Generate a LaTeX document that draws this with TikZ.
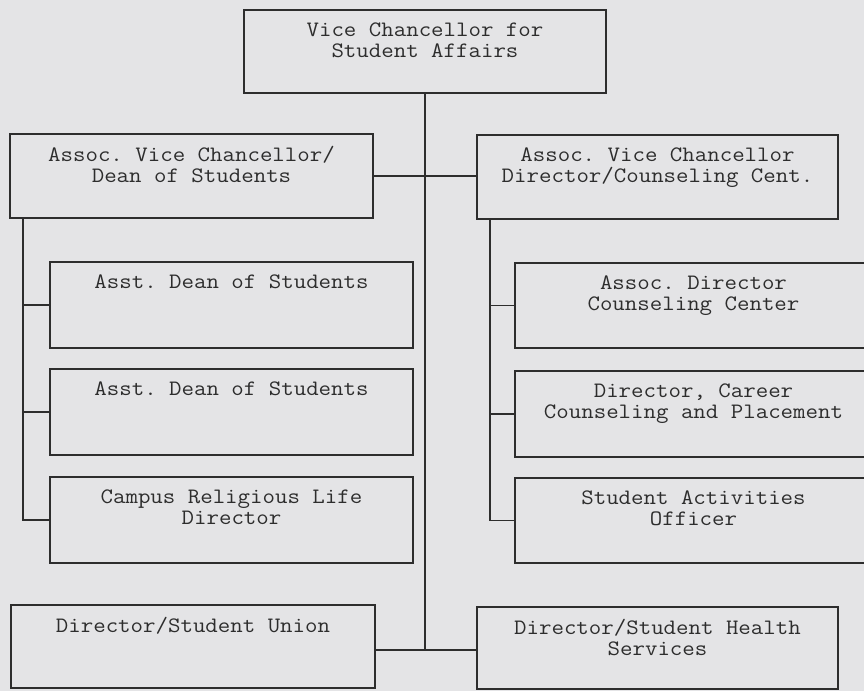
\documentclass[tikz,border=0pt]{standalone}
\usepackage{fontspec}
\setmonofont[FakeStretch=1.1]{Latin Modern Mono}
\definecolor{bg}{RGB}{228,228,230}
\definecolor{ink}{RGB}{45,45,45}
\newcommand\orgbox[6]{%
  \node[box, minimum width={(#4-#2)*1pt}, minimum height={(#5-#3)*1pt}] (#1) at ({(#2+#4)/2},{(#3+#5)/2}) {};
  \node[txt] (#1t) at ([yshift=-13pt]#1.north) {#6};}
\begin{document}
\begin{tikzpicture}[x=1pt,y=-1pt,
  box/.style={draw=ink, line width=1.3pt, fill=bg, inner sep=0pt},
  txt/.style={anchor=north, inner sep=0pt, align=center, text=ink,
    font=\fontsize{22}{21}\selectfont\ttfamily},
  wire/.style={draw=ink, line width=1.3pt}]
\fill[bg] (0,0) rectangle (864,691);
\useasboundingbox (0,0) rectangle (864,691);

\orgbox{vc}{244}{10}{606}{93}{Vice Chancellor for\\Student Affairs}
\orgbox{dean}{10}{134}{373}{218}{Assoc. Vice Chancellor/\\Dean of Students}
\orgbox{acc}{477}{135}{838}{219}{Assoc. Vice Chancellor\\Director/Counseling Cent.}
\orgbox{asst1}{50}{262}{413}{348}{Asst. Dean of Students}
\orgbox{asst2}{50}{369}{413}{455}{Asst. Dean of Students}
\orgbox{crl}{50}{477}{413}{563}{Campus Religious Life\\Director}
\orgbox{adcc}{515}{263}{872}{348}{Assoc. Director\\Counseling Center}
\orgbox{dccp}{515}{371}{872}{457}{Director, Career\\Counseling and Placement}
\orgbox{sao}{515}{478}{872}{563}{Student Activities\\Officer}
\orgbox{dsu}{11}{605}{375}{688}{Director/Student Union}
\orgbox{dsh}{477}{607}{838}{689}{Director/Student Health\\Services}

\coordinate (tb) at (426,650);
\coordinate (ls) at (23,518);
\coordinate (rs) at (490,520);

\draw[wire] (vc.south) -- (vc.south |- tb);
\draw[wire] (dsu.east |- tb) -- (dsh.west |- tb);
\draw[wire] (dean.east) -- (dean.east -| acc.west);

\draw[wire] (dean.south -| ls) -- (ls |- crl.west) -- (crl.west);
\draw[wire] (asst1.west -| ls) -- (asst1.west);
\draw[wire] (asst2.west -| ls) -- (asst2.west);

\draw[wire] (acc.south -| rs) -- (rs |- sao.west) -- (sao.west);
\draw[wire] (adcc.west -| rs) -- (adcc.west);
\draw[wire] (dccp.west -| rs) -- (dccp.west);
\end{tikzpicture}
\end{document}
